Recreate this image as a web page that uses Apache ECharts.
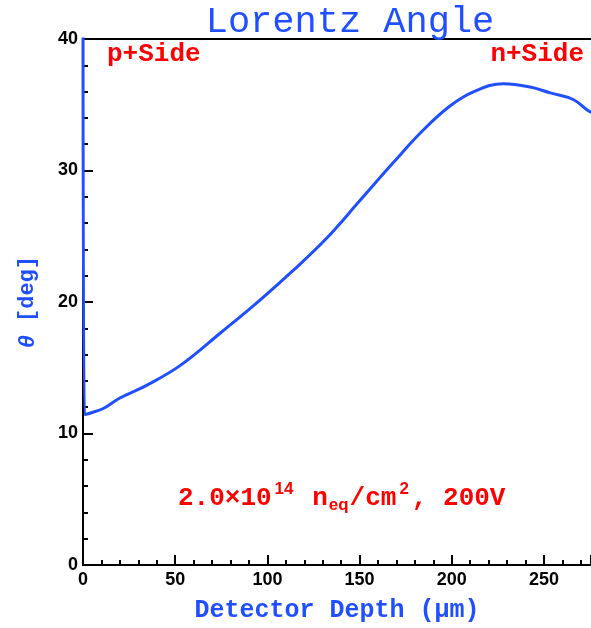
<!DOCTYPE html>
<html>
<head>
<meta charset="utf-8">
<script src="https://cdn.jsdelivr.net/npm/echarts@6/dist/echarts.min.js"></script>
<style>
  html, body { margin: 0; padding: 0; background: #fff; }
  #chart { width: 591px; height: 628px; }
</style>
</head>
<body>
<div id="chart"></div>
<script>
// depth in um, angle in degrees
const depth = [0, 0.8, 5, 11, 20, 35, 53, 75, 96, 114, 132.5, 150.4, 168.3, 184, 199, 212, 228, 242.5, 253.4, 265.8, 273.4, 276];
const angle = [46, 11.45, 11.6, 11.9, 12.7, 13.7, 15.2, 17.7, 20.15, 22.4, 24.9, 27.75, 30.6, 33.0, 34.9, 36.0, 36.6, 36.35, 35.9, 35.4, 34.6, 34.4];

const xTicks = [0, 50, 100, 150, 200, 250];
const yTicks = [0, 10, 20, 30, 40];

const blue = "#1f4fff";
const red = "#ff0000";

let chart = echarts.init(document.getElementById("chart"));

let Option = {
  backgroundColor: "#fff",
  animation: false,
  title: {
    text: "Lorentz Angle",
    left: 345,
    top: -1,
    textAlign: "center",
    textStyle: {
      color: blue,
      fontFamily: "Liberation Mono",
      fontWeight: "normal",
      fontSize: 37
    }
  },
  grid: { left: 83, right: 0, top: 39, bottom: 63 },
  xAxis: [
    {
      type: "value",
      min: 0,
      max: 275.5,
      interval: 50,
      name: "Detector Depth (\u03bcm)",
      nameLocation: "middle",
      nameGap: 33,
      nameTextStyle: {
        color: blue,
        fontFamily: "Liberation Mono",
        fontWeight: "bold",
        fontSize: 25
      },
      axisLine: { show: true, lineStyle: { color: "#000", width: 2 } },
      axisTick: { inside: true, length: 10, lineStyle: { color: "#000", width: 2 } },
      minorTick: { show: true, splitNumber: 5, length: 5, lineStyle: { color: "#000", width: 2 } },
      axisLabel: {
        color: "#000",
        fontFamily: "Liberation Sans",
        fontWeight: "bold",
        fontSize: 18,
        margin: 6,
        showMaxLabel: false,
        formatter: v => (xTicks.indexOf(v) >= 0 ? String(v) : "")
      },
      splitLine: { show: false }
    },
    {
      type: "value",
      position: "top",
      min: 0,
      max: 275.5,
      axisLine: { show: true, onZero: false, lineStyle: { color: "#000", width: 2 } },
      axisTick: { show: false },
      axisLabel: { show: false },
      splitLine: { show: false }
    }
  ],
  yAxis: {
    type: "value",
    min: 0,
    max: 40,
    interval: 10,
    name: "{t|\u03b8} [deg]",
    nameLocation: "middle",
    nameGap: 44,
    nameTextStyle: {
      color: blue,
      fontFamily: "Liberation Mono",
      fontWeight: "bold",
      fontSize: 22,
      rich: {
        t: { color: blue, fontFamily: "Liberation Sans", fontWeight: "bold", fontStyle: "italic", fontSize: 23 }
      }
    },
    axisLine: { show: true, lineStyle: { color: "#000", width: 2 } },
    axisTick: { inside: true, length: 10, lineStyle: { color: "#000", width: 2 } },
    minorTick: { show: true, splitNumber: 5, length: 5, lineStyle: { color: "#000", width: 2 } },
    axisLabel: {
      color: "#000",
      fontFamily: "Liberation Sans",
      fontWeight: "bold",
      fontSize: 18,
      margin: 5,
      formatter: v => (yTicks.indexOf(v) >= 0 ? String(v) : "")
    },
    splitLine: { show: false }
  },
  graphic: [
    {
      type: "text",
      left: 107,
      top: 41,
      style: {
        text: "p+Side",
        fill: red,
        font: "bold 26px 'Liberation Mono'"
      }
    },
    {
      type: "text",
      right: 7,
      top: 41,
      style: {
        text: "n+Side",
        fill: red,
        font: "bold 26px 'Liberation Mono'"
      }
    },
    {
      type: "text",
      left: 178,
      top: 481,
      style: {
        text: "{m|2.0\u00d710}{sup|14}{m| n}{sub|eq}{m|/cm}{sup|2}{m|, 200V}",
        fill: red,
        rich: {
          m: { fill: red, font: "bold 26px 'Liberation Mono'", lineHeight: 34, verticalAlign: "middle" },
          sup: { fill: red, font: "bold 17px 'Liberation Sans'", lineHeight: 34, padding: [0, 3, 17, 3], verticalAlign: "middle" },
          sub: { fill: red, font: "bold 17px 'Liberation Sans'", lineHeight: 34, padding: [14, 1, 0, 1], verticalAlign: "middle" }
        }
      }
    }
  ],
  series: [
    {
      type: "line",
      xAxisIndex: 0,
      data: depth.map((d, i) => [d, angle[i]]),
      showSymbol: false,
      smooth: 0.4,
      clip: true,
      lineStyle: { color: blue, width: 3 }
    }
  ]
};

chart.setOption(Option);
</script>
</body>
</html>
